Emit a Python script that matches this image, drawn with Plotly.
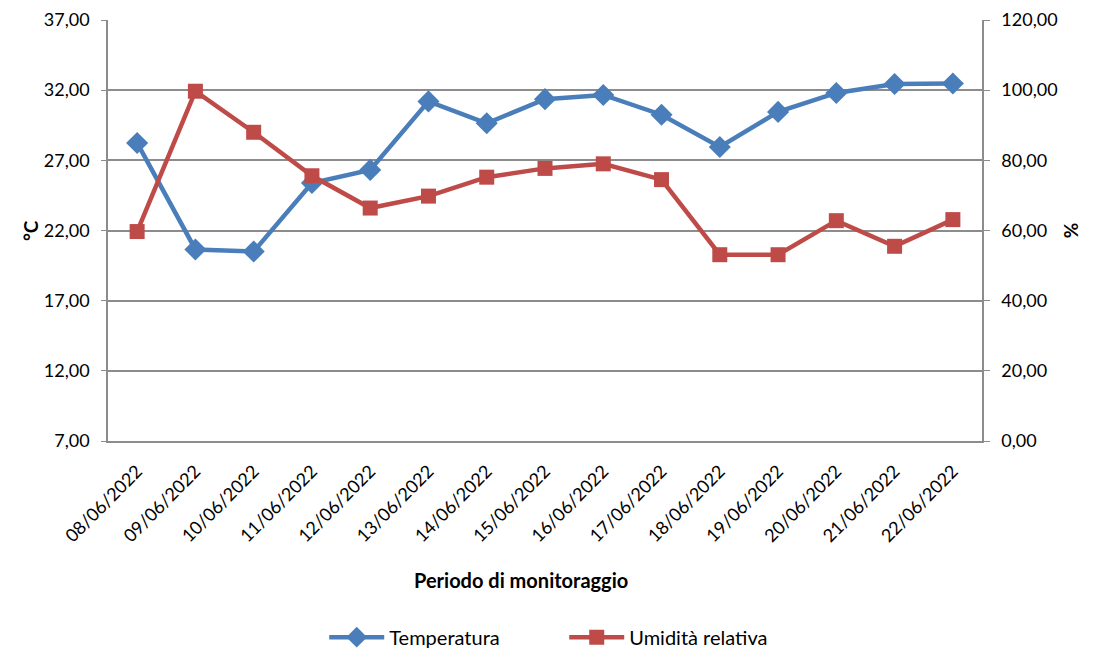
import plotly.graph_objects as go

# Monitoraggio giugno 2022
date = ["08/06/2022", "09/06/2022", "10/06/2022", "11/06/2022", "12/06/2022",
        "13/06/2022", "14/06/2022", "15/06/2022", "16/06/2022", "17/06/2022",
        "18/06/2022", "19/06/2022", "20/06/2022", "21/06/2022", "22/06/2022"]
temperatura = [28.24, 20.65, 20.50, 25.39, 26.32, 31.20, 29.64, 31.36, 31.66,
               30.25, 27.95, 30.45, 31.80, 32.44, 32.48]
umidita = [59.7, 99.7, 88.0, 75.6, 66.4, 69.8, 75.2, 77.7, 79.0, 74.5,
           53.1, 53.1, 62.8, 55.5, 63.1]

BLUE = "#4A7EBB"
RED = "#BE4B48"
GRID = "#8C8C8C"
FONT = "Lato"

fig = go.Figure()
fig.add_trace(go.Scatter(
    x=date, y=temperatura, name="Temperatura", mode="lines+markers",
    line=dict(color=BLUE, width=4.5),
    marker=dict(symbol="diamond", size=17, color=BLUE),
    yaxis="y",
))
fig.add_trace(go.Scatter(
    x=date, y=umidita, name="Umidità relativa", mode="lines+markers",
    line=dict(color=RED, width=4.5),
    marker=dict(symbol="square", size=15, color=RED),
    yaxis="y2",
))

# the page body adds an 8px margin, so shift everything up/left by 8px
fig.update_layout(
    width=1088, height=651,
    margin=dict(l=100, r=114, t=12, b=218, autoexpand=False),
    paper_bgcolor="white", plot_bgcolor="white",
    separators=",.",
    font=dict(family=FONT, size=18, color="black"),
    showlegend=True,
    legend=dict(orientation="h", x=0.522, xanchor="center", y=-0.466, yanchor="middle",
                font=dict(size=20), itemwidth=55, entrywidth=170,
                entrywidthmode="pixels", tracegroupgap=0),
    xaxis=dict(
        type="category", range=[-0.5, len(date) - 0.5], automargin=False,
        tickangle=-45, tickfont=dict(size=18), ticklabelstandoff=11,
        showgrid=False, showline=True, linecolor=GRID, linewidth=1.5,
        ticks="", zeroline=False,
    ),
    yaxis=dict(
        range=[7, 37], tick0=7, dtick=5, tickformat=".2f", automargin=False,
        showgrid=True, gridcolor=GRID, gridwidth=1.5,
        showline=True, linecolor=GRID, linewidth=1.5,
        ticks="outside", ticklen=5, tickcolor=GRID, ticklabelstandoff=8,
        zeroline=False,
    ),
    yaxis2=dict(
        range=[0, 120], tick0=0, dtick=20, tickformat=".2f", automargin=False,
        overlaying="y", side="right", showgrid=False,
        showline=True, linecolor=GRID, linewidth=1.5,
        ticks="outside", ticklen=6, tickcolor=GRID, ticklabelstandoff=8,
        zeroline=False,
    ),
    annotations=[
        dict(text="<b>°C</b>", xref="paper", yref="paper", x=-0.104, y=0.5,
             textangle=-90, showarrow=False, font=dict(size=19)),
        dict(text="<b>%</b>", xref="paper", yref="paper", x=1.117, y=0.5,
             textangle=-90, showarrow=False, font=dict(size=19)),
        dict(text="<b>Periodo di monitoraggio</b>", xref="paper", yref="paper",
             x=0.4725, y=-0.363, showarrow=False, font=dict(size=20)),
    ],
)

fig.write_html("out.html")
